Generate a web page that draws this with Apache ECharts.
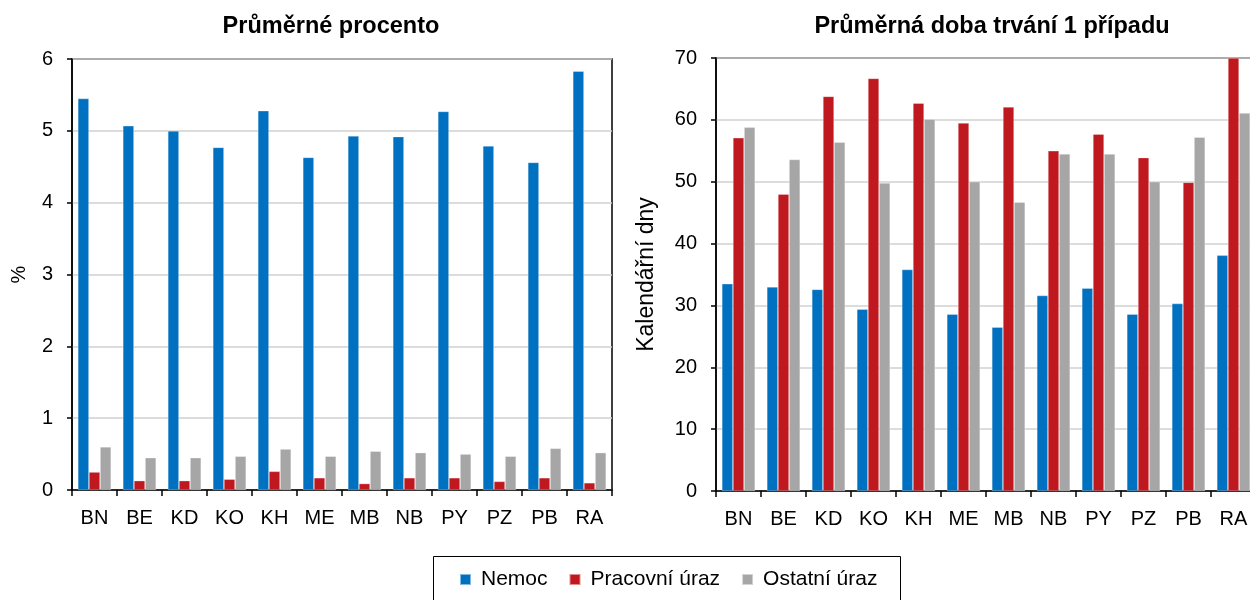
<!DOCTYPE html>
<html><head><meta charset="utf-8">
<script src="https://cdn.jsdelivr.net/npm/echarts@6/dist/echarts.min.js"></script>
<style>html,body{margin:0;padding:0;background:#fff}#c{width:1250px;height:600px}</style>
</head><body><div id="c"></div>
<script>
const categories = ['BN','BE','KD','KO','KH','ME','MB','NB','PY','PZ','PB','RA'];
const seriesNames = ['Nemoc','Pracovní úraz','Ostatní úraz'];
const pctNemoc    = [5.45,5.07,5.00,4.77,5.28,4.63,4.93,4.92,5.27,4.79,4.56,5.83];
const pctPracovni = [0.25,0.13,0.13,0.15,0.26,0.17,0.09,0.17,0.17,0.12,0.17,0.10];
const pctOstatni  = [0.60,0.45,0.45,0.47,0.57,0.47,0.54,0.52,0.50,0.47,0.58,0.52];
const dobaNemoc    = [33.5,33.0,32.6,29.4,35.8,28.6,26.5,31.6,32.8,28.6,30.3,38.1];
const dobaPracovni = [57.1,48.0,63.8,66.7,62.7,59.5,62.1,55.0,57.7,53.9,49.9,70.0];
const dobaOstatni  = [58.8,53.6,56.4,49.8,60.1,50.0,46.7,54.5,54.5,50.0,57.2,61.1];
const titles = ['Průměrné procento','Průměrná doba trvání 1 případu'];
const yNames = ['%','Kalendářní dny'];

const colors = ['#0070C0','#C0181F','#A6A6A6'];
const font = 'Arial, "Liberation Sans", sans-serif';
const chart = echarts.init(document.getElementById('c'));

function xAxis(gi){
  return {type:'category', gridIndex:gi, data:categories,
    axisLine:{lineStyle:{color:'#000',width:1.5}},
    axisTick:{show:true, alignWithLabel:false, length:6, lineStyle:{color:'#000',width:1.5}},
    axisLabel:{color:'#000', fontSize:20, fontFamily:font, margin:18}};
}
function yAxis(gi,max,interval,name,gap,nameSize){
  return {type:'value', gridIndex:gi, min:0, max:max, interval:interval,
    name:name, nameLocation:'middle', nameGap:gap, nameRotate:90,
    nameTextStyle:{color:'#000', fontSize:nameSize, fontFamily:font},
    axisLine:{show:true, lineStyle:{color:'#000',width:1.5}},
    axisTick:{show:true, length:5, lineStyle:{color:'#000',width:1.5}},
    axisLabel:{color:'#000', fontSize:20, fontFamily:font, margin:19},
    splitLine:{show:true, lineStyle:{color:'#D0D0D0', width:1.5}}};
}
function bar(name, data, ci, gi){
  return {name:name, type:'bar', xAxisIndex:gi, yAxisIndex:gi, data:data,
    barGap:'0%', barCategoryGap:'26%',
    itemStyle:{color:colors[ci], borderColor:'rgba(255,255,255,0.5)', borderWidth:0.6}};
}

chart.setOption({
  animation:false,
  title:[
    {text:titles[0], left:326, top:10, textAlign:'center',
     textStyle:{fontSize:23.5, fontWeight:'bold', color:'#000', fontFamily:font}},
    {text:titles[1], left:987, top:10, textAlign:'center',
     textStyle:{fontSize:23.5, fontWeight:'bold', color:'#000', fontFamily:font}}
  ],
  grid:[
    {left:72, top:59, width:540, height:431, show:true, borderColor:'#000', borderWidth:1.5,
     containLabel:false, outerBoundsMode:'none'},
    {left:716, top:58, width:540, height:433, show:true, borderColor:'#000', borderWidth:1.5,
     containLabel:false, outerBoundsMode:'none'}
  ],
  xAxis:[xAxis(0), xAxis(1)],
  yAxis:[yAxis(0,6,1,yNames[0],43,20), yAxis(1,70,10,yNames[1],58,23)],
  legend:{data:seriesNames, left:459, top:569, itemWidth:11, itemHeight:11, itemGap:21,
    icon:'rect', padding:0,
    textStyle:{color:'#000', fontSize:21, fontFamily:font, padding:[0,0,0,5]}},
  graphic:[{type:'rect', shape:{x:433.5, y:556.5, width:467, height:60},
    style:{fill:'none', stroke:'#000', lineWidth:1}}],
  series:[
    bar(seriesNames[0], pctNemoc, 0, 0),
    bar(seriesNames[1], pctPracovni, 1, 0),
    bar(seriesNames[2], pctOstatni, 2, 0),
    bar(seriesNames[0], dobaNemoc, 0, 1),
    bar(seriesNames[1], dobaPracovni, 1, 1),
    bar(seriesNames[2], dobaOstatni, 2, 1)
  ]
});
</script></body></html>
